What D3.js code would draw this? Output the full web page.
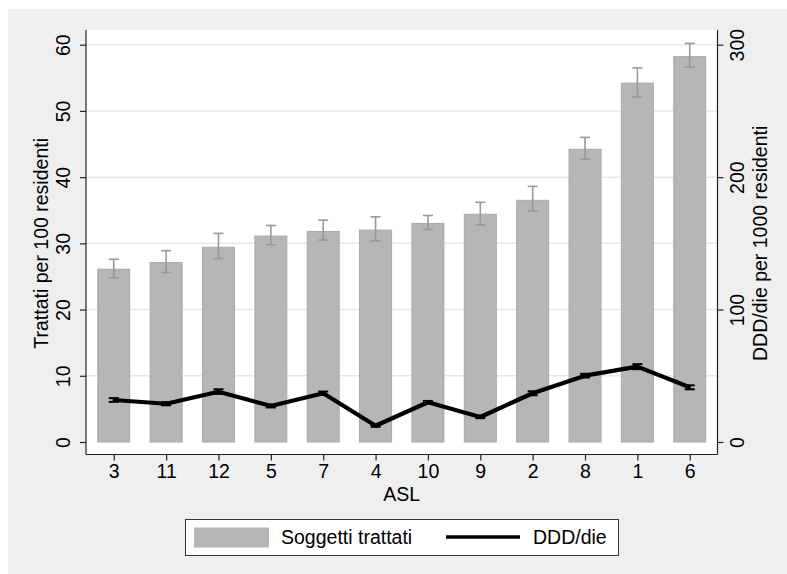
<!DOCTYPE html>
<html>
<head>
<meta charset="utf-8">
<script src="https://cdn.jsdelivr.net/npm/d3@7"></script>
<style>
  html, body { margin: 0; padding: 0; background: #ffffff; }
  svg { display: block; font-family: "Liberation Sans", Arial, Helvetica, sans-serif; }
</style>
</head>
<body>
<svg id="chart" width="787" height="574"></svg>
<script>
// ASL (local health units), ordered by share of treated subjects
const asl = ["3", "11", "12", "5", "7", "4", "10", "9", "2", "8", "1", "6"];

// Treated subjects per 100 residents, with confidence interval
const trattati   = [26.1, 27.1, 29.4, 31.1, 31.8, 32.0, 33.0, 34.4, 36.5, 44.2, 54.2, 58.2];
const trattatiLo = [24.8, 25.6, 27.7, 29.8, 30.5, 30.4, 32.1, 32.8, 34.9, 42.7, 52.1, 56.6];
const trattatiHi = [27.6, 28.9, 31.5, 32.7, 33.5, 34.0, 34.2, 36.2, 38.6, 46.0, 56.5, 60.2];

// DDD/die per 1000 residents, with confidence interval
const ddd   = [31.7, 28.9, 38.0, 27.2, 36.8, 12.3, 30.0, 18.9, 36.8, 50.1, 56.9, 41.3];
const dddLo = [30.3, 27.7, 36.3, 26.1, 35.5, 11.5, 29.0, 18.0, 35.3, 48.7, 55.0, 39.8];
const dddHi = [33.1, 30.1, 39.8, 28.3, 38.1, 13.1, 31.0, 19.8, 38.3, 51.5, 58.8, 42.8];

const leftTicks  = [0, 10, 20, 30, 40, 50, 60];
const rightTicks = [0, 100, 200, 300];

const svg = d3.select("#chart");
const W = 787, H = 574;
const FONT = 19.5;

// background panel
svg.append("rect").attr("x", 8).attr("y", 9).attr("width", W - 8).attr("height", H - 9)
  .attr("fill", "#efefef");

// plot region
const plot = { left: 86, right: 717.5, top: 30, bottom: 454.5 };
svg.append("rect")
  .attr("x", plot.left).attr("y", plot.top)
  .attr("width", plot.right - plot.left).attr("height", plot.bottom - plot.top)
  .attr("fill", "#ffffff");

const x = d3.scalePoint().domain(asl).range([plot.left, plot.right]).padding(0.53);
const yL = d3.scaleLinear().domain([0, 60]).range([442, 44.7]);
const yR = d3.scaleLinear().domain([0, 300]).range([442, 44.7]);
const barW = 32;

// gridlines
svg.append("g").selectAll("line").data(leftTicks.filter(d => d > 0)).join("line")
  .attr("x1", plot.left).attr("x2", plot.right)
  .attr("y1", d => yL(d)).attr("y2", d => yL(d))
  .attr("stroke", "#e8e8e8").attr("stroke-width", 1.5);

// bars
svg.append("g").selectAll("rect").data(asl).join("rect")
  .attr("x", (d, i) => x(d) - barW / 2)
  .attr("y", (d, i) => yL(trattati[i]))
  .attr("width", barW)
  .attr("height", (d, i) => yL(0) - yL(trattati[i]))
  .attr("fill", "#b6b6b6").attr("stroke", "#a9a9a9").attr("stroke-width", 1);

// bar error bars
const ebBar = svg.append("g").attr("stroke", "#999999").attr("stroke-width", 1.6).attr("fill", "none");
asl.forEach((d, i) => {
  const cx = x(d);
  ebBar.append("line").attr("x1", cx).attr("x2", cx).attr("y1", yL(trattatiLo[i])).attr("y2", yL(trattatiHi[i]));
  ebBar.append("line").attr("x1", cx - 5).attr("x2", cx + 5).attr("y1", yL(trattatiLo[i])).attr("y2", yL(trattatiLo[i]));
  ebBar.append("line").attr("x1", cx - 5).attr("x2", cx + 5).attr("y1", yL(trattatiHi[i])).attr("y2", yL(trattatiHi[i]));
});

// DDD line with error bars
const ebLine = svg.append("g").attr("stroke", "#000").attr("stroke-width", 2).attr("fill", "none");
asl.forEach((d, i) => {
  const cx = x(d);
  ebLine.append("line").attr("x1", cx).attr("x2", cx).attr("y1", yR(dddLo[i])).attr("y2", yR(dddHi[i]));
  ebLine.append("line").attr("x1", cx - 5).attr("x2", cx + 5).attr("y1", yR(dddLo[i])).attr("y2", yR(dddLo[i]));
  ebLine.append("line").attr("x1", cx - 5).attr("x2", cx + 5).attr("y1", yR(dddHi[i])).attr("y2", yR(dddHi[i]));
});
svg.append("path")
  .datum(asl.map((d, i) => [x(d), yR(ddd[i])]))
  .attr("d", d3.line())
  .attr("fill", "none").attr("stroke", "#000").attr("stroke-width", 4.2)
  .attr("stroke-linejoin", "round");

// axes
const axisColor = "#222";
function styleAxis(g) {
  g.selectAll("path.domain").attr("stroke", axisColor).attr("stroke-width", 1.2);
  g.selectAll(".tick line").attr("stroke", axisColor).attr("stroke-width", 1.2);
  g.selectAll("text").attr("fill", "#000").style("font-size", FONT + "px")
    .style("font-family", "'Liberation Sans', Arial, sans-serif");
}

const xAxis = svg.append("g").attr("transform", `translate(0,${plot.bottom})`)
  .call(d3.axisBottom(x).tickSizeOuter(0).tickSize(6).tickPadding(4));
xAxis.select("path.domain").attr("d", `M${plot.left},0H${plot.right}`);
styleAxis(xAxis);

const yAxisL = svg.append("g").attr("transform", `translate(${plot.left},0)`)
  .call(d3.axisLeft(yL).tickValues(leftTicks).tickSizeOuter(0).tickSize(6));
yAxisL.select("path.domain").attr("d", `M0,${plot.top}V${plot.bottom}`);
styleAxis(yAxisL);
yAxisL.selectAll(".tick text")
  .attr("x", null).attr("dy", null)
  .attr("text-anchor", "middle")
  .attr("transform", "translate(-16,0) rotate(-90)")
  .attr("y", 0).attr("dominant-baseline", "auto");

const yAxisR = svg.append("g").attr("transform", `translate(${plot.right},0)`)
  .call(d3.axisRight(yR).tickValues(rightTicks).tickSizeOuter(0).tickSize(6));
yAxisR.select("path.domain").attr("d", `M0,${plot.top}V${plot.bottom}`);
styleAxis(yAxisR);
yAxisR.selectAll(".tick text")
  .attr("x", null).attr("dy", null)
  .attr("text-anchor", "middle")
  .attr("transform", "translate(26,0) rotate(-90)")
  .attr("y", 0);

// axis titles
const titleStyle = sel => sel.attr("fill", "#000").style("font-size", FONT + "px").attr("text-anchor", "middle");
svg.append("text").attr("transform", `translate(48,${(yL(0) + yL(60)) / 2}) rotate(-90)`)
  .text("Trattati per 100 residenti").call(titleStyle);
svg.append("text").attr("transform", `translate(767,${(yR(0) + yR(300)) / 2}) rotate(-90)`)
  .text("DDD/die per 1000 residenti").call(titleStyle);
svg.append("text").attr("x", (plot.left + plot.right) / 2).attr("y", 501)
  .text("ASL").call(titleStyle);

// legend
const lg = svg.append("g");
lg.append("rect").attr("x", 185.5).attr("y", 519.5).attr("width", 433).attr("height", 36)
  .attr("fill", "#fff").attr("stroke", "#333").attr("stroke-width", 1);
lg.append("rect").attr("x", 194).attr("y", 527.5).attr("width", 75).attr("height", 20)
  .attr("fill", "#b6b6b6");
lg.append("text").attr("x", 281).attr("y", 544).text("Soggetti trattati")
  .attr("fill", "#000").style("font-size", FONT + "px");
lg.append("line").attr("x1", 446).attr("x2", 520).attr("y1", 537).attr("y2", 537)
  .attr("stroke", "#000").attr("stroke-width", 3.6);
lg.append("text").attr("x", 533).attr("y", 544).text("DDD/die")
  .attr("fill", "#000").style("font-size", FONT + "px");
</script>
</body>
</html>
